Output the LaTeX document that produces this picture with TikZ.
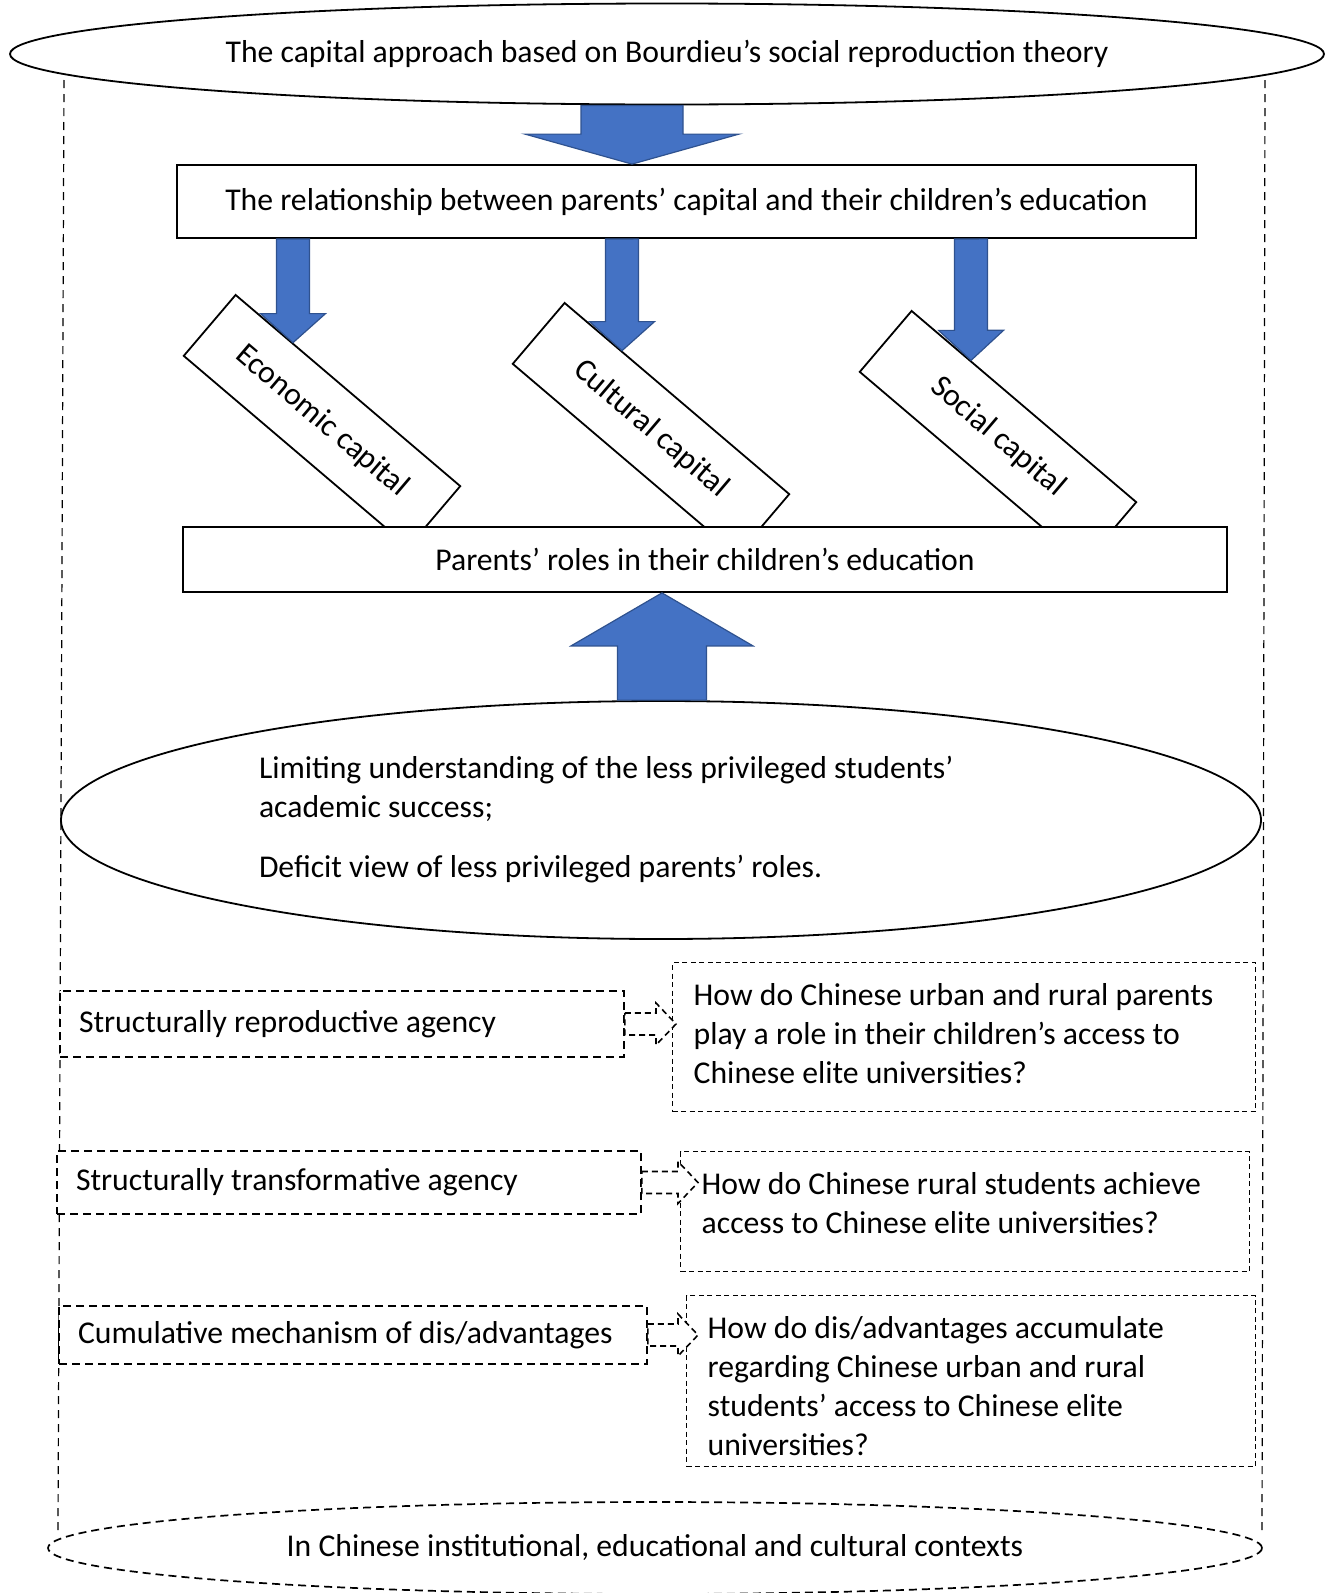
\documentclass[tikz,border=0pt]{standalone}
\usepackage{fontspec}
\setmainfont{Carlito}
\usetikzlibrary{shapes.geometric,calc}

\definecolor{capblue}{HTML}{4472C4}
\definecolor{capedge}{HTML}{2F528F}

% block arrow: [style] start, tip, shaft half width, head half width, head length
\newcommand{\fatarrow}[6][bluearrow]{%
  \coordinate (fa) at ($(#3)!#6!(#2)$);
  \filldraw[#1] ($(#2)!#4!90:(#3)$) -- ($(fa)!#4!90:(#3)$) -- ($(fa)!#5!90:(#3)$)
    -- (#3) -- ($(fa)!#5!-90:(#3)$) -- ($(fa)!#4!-90:(#3)$) -- ($(#2)!#4!-90:(#3)$) -- cycle;}
% top aligned text for the question boxes
\newcommand{\qtext}[3]{\parbox[c][#2][t]{#1}{\strut#3}}

\begin{document}
\begin{tikzpicture}[x=1pt,y=-1pt,
    font=\fontsize{31.7}{39}\selectfont,
    every node/.style={inner sep=0pt},
    oval/.style={ellipse,draw,line width=1.8pt,fill=white},
    plainbox/.style={rectangle,draw,line width=1.8pt,fill=white},
    capbox/.style={plainbox,rotate=-40.4,minimum width=295pt,minimum height=80pt},
    agentbox/.style={rectangle,draw,line width=1.7pt,dash pattern=on 8pt off 5pt,fill=white,
      align=flush left,inner xsep=19pt},
    qbox/.style={rectangle,draw,line width=1.4pt,dash pattern=on 5pt off 3.5pt,
      inner xsep=21pt,inner ysep=15pt,anchor=north west},
    bluearrow/.style={fill=capblue,draw=capedge,line width=1.2pt},
    dasharrow/.style={fill=white,draw,line width=1.6pt,dash pattern=on 6pt off 4pt},
    side/.style={line width=1.2pt,dash pattern=on 8pt off 6pt}]
\useasboundingbox (0,0) rectangle (1332,1593);

% sides of the cylinder
\draw[side] (64,80) -- (58,1530);
\draw[side] (1265,80) -- (1262,1530);

\node[oval,minimum width=1314pt,minimum height=101pt] (top) at (667,54)
  {The capital approach based on Bourdieu’s social reproduction theory};
\node[oval,line width=1.7pt,dash pattern=on 8pt off 5pt,minimum width=1214pt,minimum height=92pt]
  (ctx) at (655,1548) {In Chinese institutional, educational and cultural contexts};

\node[plainbox,minimum width=1019pt,minimum height=73pt] (rel) at (686.5,201.5)
  {The relationship between parents’ capital and their children’s education};

\node[capbox] (eco) at (322,421) {Economic capital};
\node[capbox] (cul) at (651,429) {Cultural capital};
\node[capbox] (soc) at (998,437) {Social capital};

\node[plainbox,minimum width=1044pt,minimum height=65pt] (roles) at (705,559.5)
  {Parents’ roles in their children’s education};

% blue arrows
\coordinate (a0s) at (632,0 |- top.south);
\coordinate (a0t) at (632,0 |- rel.north);
\fatarrow{a0s}{a0t}{51pt}{107pt}{30pt}
\coordinate (a1s) at (293,0 |- rel.south);
\coordinate (a1t) at (intersection of 293,0--293,1 and eco.north west--eco.north east);
\fatarrow{a1s}{a1t}{16.5pt}{32.5pt}{29pt}
\coordinate (a2s) at (622,0 |- rel.south);
\coordinate (a2t) at (intersection of 622,0--622,1 and cul.north west--cul.north east);
\fatarrow{a2s}{a2t}{16.5pt}{32.5pt}{29pt}
\coordinate (a3s) at (971,0 |- rel.south);
\coordinate (a3t) at (intersection of 971,0--971,1 and soc.north west--soc.north east);
\fatarrow{a3s}{a3t}{16.5pt}{32.5pt}{30pt}

\node[oval,minimum width=1200pt,minimum height=238pt,text width=804pt,align=flush left] (lim) at (661,820)
  {Limiting understanding of the less privileged students’\\
   academic success;\\[21pt]
   Deficit view of less privileged parents’ roles.};
\coordinate (a4s) at (662,0 |- lim.north);
\coordinate (a4t) at (662,0 |- roles.south);
\fatarrow{a4s}{a4t}{44.5pt}{91pt}{53pt}

% agency and questions
\node[agentbox,minimum width=564pt,minimum height=66pt,text width=526pt] (lb1) at (342,1024)
  {Structurally reproductive agency};
\node[agentbox,minimum width=584pt,minimum height=63pt,text width=546pt] (lb2) at (349,1182.5)
  {Structurally transformative agency};
\node[agentbox,minimum width=588pt,minimum height=58pt,text width=550pt] (lb3) at (353,1335)
  {Cumulative mechanism of dis/advantages};

\node[qbox] (rb1) at (672,962) {\qtext{541pt}{119pt}{How do Chinese urban and rural parents\\
  play a role in their children’s access to\\ Chinese elite universities?}};
\node[qbox] (rb2) at (680,1151) {\qtext{527pt}{90pt}{How do Chinese rural students achieve\\
  access to Chinese elite universities?}};
\node[qbox] (rb3) at (686,1295) {\qtext{527pt}{141pt}{How do dis/advantages accumulate\\
  regarding Chinese urban and rural\\ students’ access to Chinese elite\\ universities?}};

\coordinate (d1) at ($(lb1.east -| rb1.west)+(4,0)$);
\coordinate (d2) at ($(lb2.east -| rb2.west)+(18,0)$);
\coordinate (d3) at ($(lb3.east -| rb3.west)+(12,0)$);
\fatarrow[dasharrow]{lb1.east}{d1}{11pt}{21pt}{20pt}
\fatarrow[dasharrow]{lb2.east}{d2}{11pt}{21pt}{20pt}
\fatarrow[dasharrow]{lb3.east}{d3}{11pt}{21pt}{20pt}
\end{tikzpicture}
\end{document}
